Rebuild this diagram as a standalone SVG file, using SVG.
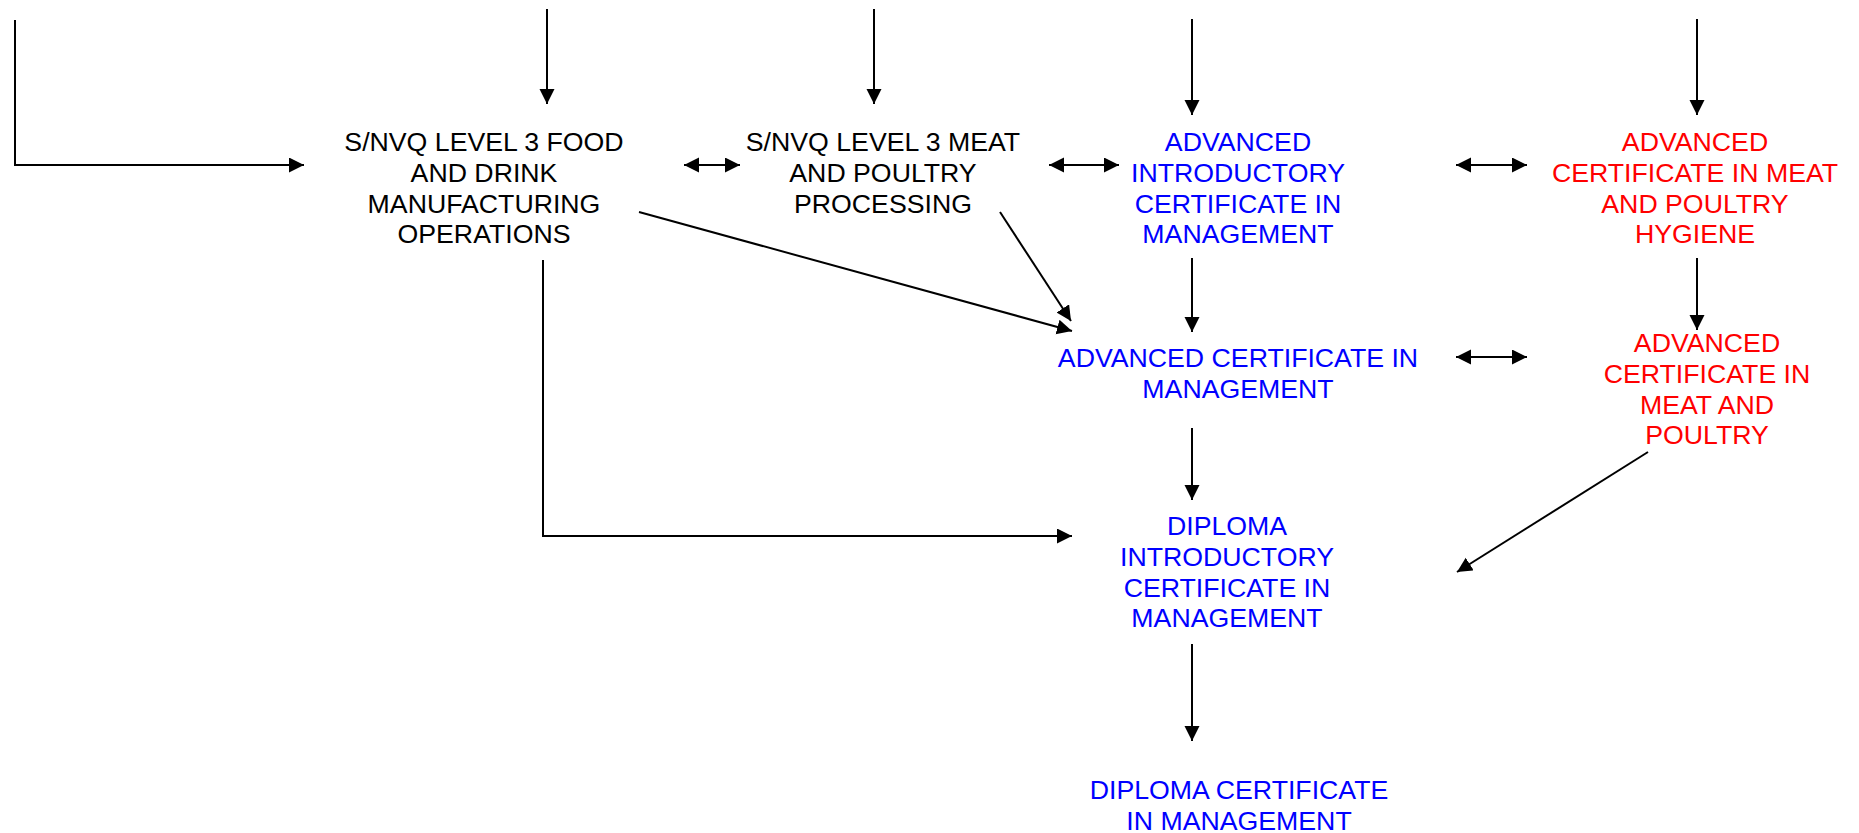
<svg xmlns="http://www.w3.org/2000/svg" width="1859" height="833" viewBox="0 0 1859 833">
<style>
text{font-family:"Liberation Sans",Arial,sans-serif;font-size:26.7px;text-anchor:middle}
.k{fill:#000}.b{fill:#0000ff}.r{fill:#ff0000}
.c{fill:none;stroke:#000;stroke-width:2}
</style>
<defs>
<marker id="ah" markerUnits="userSpaceOnUse" markerWidth="16" markerHeight="16" refX="15" refY="7.5" orient="auto-start-reverse" viewBox="0 0 16 16">
<path d="M0,0 L15,7.5 L0,15 z" fill="#000"/>
</marker>
</defs>
<g id="connectors">
<polyline class="c" points="15,20 15,165 304,165" marker-end="url(#ah)"/>
<line class="c" x1="547" y1="9" x2="547" y2="104" marker-end="url(#ah)"/>
<line class="c" x1="874" y1="9" x2="874" y2="104" marker-end="url(#ah)"/>
<line class="c" x1="1192" y1="19" x2="1192" y2="115" marker-end="url(#ah)"/>
<line class="c" x1="1697" y1="19" x2="1697" y2="115" marker-end="url(#ah)"/>
<line class="c" x1="684" y1="165" x2="740" y2="165" marker-start="url(#ah)" marker-end="url(#ah)"/>
<line class="c" x1="1049" y1="165" x2="1119" y2="165" marker-start="url(#ah)" marker-end="url(#ah)"/>
<line class="c" x1="1456" y1="165" x2="1527" y2="165" marker-start="url(#ah)" marker-end="url(#ah)"/>
<line class="c" x1="1456" y1="357" x2="1527" y2="357" marker-start="url(#ah)" marker-end="url(#ah)"/>
<line class="c" x1="1192" y1="258" x2="1192" y2="332" marker-end="url(#ah)"/>
<line class="c" x1="1697" y1="258" x2="1697" y2="330" marker-end="url(#ah)"/>
<line class="c" x1="1192" y1="428" x2="1192" y2="500" marker-end="url(#ah)"/>
<line class="c" x1="1192" y1="644" x2="1192" y2="741" marker-end="url(#ah)"/>
<line class="c" x1="639" y1="212" x2="1072" y2="331" marker-end="url(#ah)"/>
<line class="c" x1="1000" y1="212" x2="1071" y2="321" marker-end="url(#ah)"/>
<polyline class="c" points="543,260 543,536 1072,536" marker-end="url(#ah)"/>
<line class="c" x1="1648" y1="452" x2="1457" y2="572" marker-end="url(#ah)"/>
</g>
<g id="n1"><text class="k" x="484" y="151">S/NVQ LEVEL 3 FOOD</text><text class="k" x="484" y="182">AND DRINK</text><text class="k" x="484" y="213">MANUFACTURING</text><text class="k" x="484" y="243">OPERATIONS</text></g>
<g id="n2"><text class="k" x="883" y="151">S/NVQ LEVEL 3 MEAT</text><text class="k" x="883" y="182">AND POULTRY</text><text class="k" x="883" y="213">PROCESSING</text></g>
<g id="n3"><text class="b" x="1238" y="151">ADVANCED</text><text class="b" x="1238" y="182">INTRODUCTORY</text><text class="b" x="1238" y="213">CERTIFICATE IN</text><text class="b" x="1238" y="243">MANAGEMENT</text></g>
<g id="n4"><text class="r" x="1695" y="151">ADVANCED</text><text class="r" x="1695" y="182">CERTIFICATE IN MEAT</text><text class="r" x="1695" y="213">AND POULTRY</text><text class="r" x="1695" y="243">HYGIENE</text></g>
<g id="n5"><text class="b" x="1238" y="367">ADVANCED CERTIFICATE IN</text><text class="b" x="1238" y="398">MANAGEMENT</text></g>
<g id="n6"><text class="r" x="1707" y="352">ADVANCED</text><text class="r" x="1707" y="383">CERTIFICATE IN</text><text class="r" x="1707" y="414">MEAT AND</text><text class="r" x="1707" y="444">POULTRY</text></g>
<g id="n7"><text class="b" x="1227" y="535">DIPLOMA</text><text class="b" x="1227" y="566">INTRODUCTORY</text><text class="b" x="1227" y="597">CERTIFICATE IN</text><text class="b" x="1227" y="627">MANAGEMENT</text></g>
<g id="n8"><text class="b" x="1239" y="799">DIPLOMA CERTIFICATE</text><text class="b" x="1239" y="830">IN MANAGEMENT</text></g>
</svg>
